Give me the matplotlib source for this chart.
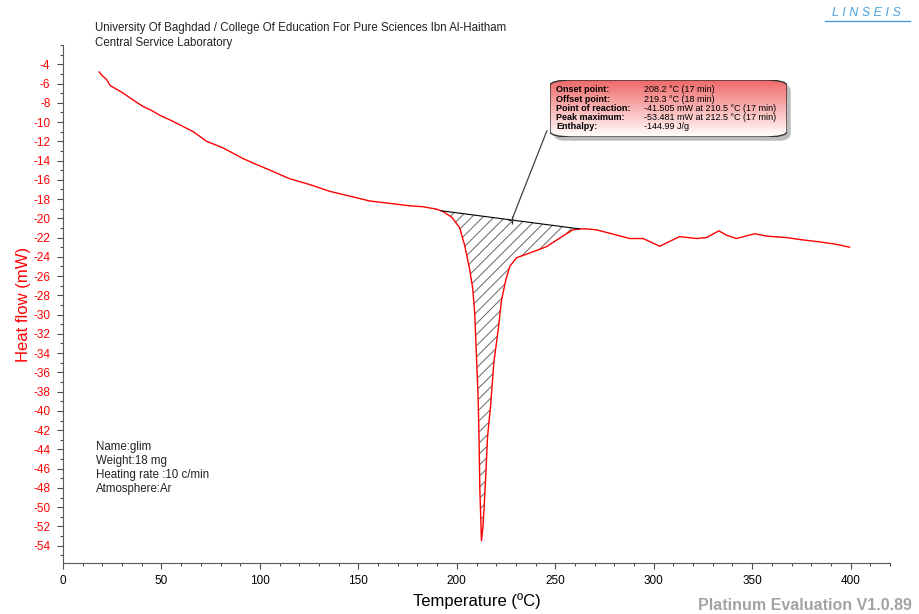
"""DSC curve of sample 'glim' -- Linseis Platinum style recreation."""
import numpy as np
import matplotlib
matplotlib.use("Agg")
import matplotlib.pyplot as plt
from matplotlib.patches import FancyBboxPatch
from matplotlib.ticker import MultipleLocator

plt.rcParams["font.family"] = ["Liberation Sans", "DejaVu Sans"]
plt.rcParams["hatch.linewidth"] = 0.7
plt.rcParams["axes.unicode_minus"] = False

# --- data ------------------------------------------------------------------
temp = [18.4, 19.5, 22.2, 23.9, 28.1, 30.6, 35.5, 40.8, 45.0, 49.2, 54.5, 59.4,
        66.1, 72.9, 81.4, 91.5, 97.0, 105.1, 115.2, 125.4, 135.5, 145.7, 155.8,
        166.0, 176.1, 182.9, 189.7, 193.0, 197.5, 201.5, 204.1, 206.6, 208.1,
        209.1, 210.0, 210.8, 211.3, 211.7, 212.2, 212.5, 213.3, 213.9, 214.6,
        215.6, 217.1, 218.8, 221.0, 222.7, 224.9, 226.9, 230.3, 237.1, 245.5,
        252.3, 258.9, 262.4, 266.0, 270.9, 277.7, 287.8, 294.6, 303.0, 313.2,
        321.7, 326.8, 333.1, 336.9, 342.0, 351.3, 357.2, 367.4, 374.1, 384.3,
        392.7, 399.5]
heat_flow = [-4.8, -5.1, -5.6, -6.2, -6.7, -7.0, -7.7, -8.4, -8.8, -9.3, -9.8,
             -10.3, -11.0, -12.0, -12.7, -13.8, -14.3, -15.0, -15.9, -16.5,
             -17.2, -17.7, -18.2, -18.45, -18.7, -18.8, -19.05, -19.3, -19.9,
             -21.0, -22.9, -25.4, -27.3, -29.9, -34.4, -38.5, -43.0, -48.2,
             -51.3, -53.48, -52.0, -49.9, -47.2, -42.7, -39.6, -35.0, -31.6,
             -28.5, -26.4, -25.0, -24.1, -23.6, -22.95, -22.05, -21.2, -21.1,
             -21.1, -21.2, -21.55, -22.1, -22.1, -22.9, -21.9, -22.1, -22.0,
             -21.3, -21.75, -22.1, -21.6, -21.85, -22.0, -22.2, -22.45, -22.7,
             -23.0]

onset_T, onset_Y = 192.2, -19.22     # integration baseline start
offset_T, offset_Y = 262.4, -21.1    # integration baseline end
mark_T, mark_Y = 227.9, -20.18       # "+" on baseline where the callout points

header = ["University Of Baghdad / College Of Education For Pure Sciences Ibn Al-Haitham",
          "Central Service Laboratory"]
sample_info = ["Name:glim", "Weight:18 mg", "Heating rate :10 c/min", "Atmosphere:Ar"]
result_labels = ["Onset point:", "Offset point:", "Point of reaction:",
                 "Peak maximum:", "Enthalpy:"]
result_values = ["208.2 \u00b0C (17 min)", "219.3 \u00b0C (18 min)",
                 "-41.505 mW at 210.5 \u00b0C (17 min)",
                 "-53.481 mW at 212.5 \u00b0C (17 min)", "-144.99 J/g"]

# --- figure -----------------------------------------------------------------
fig = plt.figure(figsize=(9.2, 6.14), dpi=100)
ax = fig.add_axes([63 / 920, 1 - 563 / 614, (890 - 63) / 920, (563 - 45) / 614])

T = np.array(temp)
Y = np.array(heat_flow)
ax.plot(T, Y, color="red", lw=1.0)

# hatched peak area between baseline and curve
sel = (T >= onset_T) & (T <= offset_T)
Ts = np.concatenate([[onset_T], T[sel], [offset_T]])
Ys = np.concatenate([[onset_Y], Y[sel], [offset_Y]])
base = np.interp(Ts, [onset_T, offset_T], [onset_Y, offset_Y])
ax.fill_between(Ts, Ys, base, facecolor="none", edgecolor="0.4", hatch="///",
                linewidth=0)
ax.plot([onset_T, offset_T], [onset_Y, offset_Y], color="black", lw=0.8)
ax.plot([mark_T], [mark_Y], marker="+", color="0.2", ms=6, mew=0.9)

ax.set_xlim(0, 420)
ax.set_ylim(-55.8, -2.0)
ax.xaxis.set_major_locator(MultipleLocator(50))
ax.xaxis.set_minor_locator(MultipleLocator(10))
ax.yaxis.set_major_locator(MultipleLocator(2))
ax.yaxis.set_minor_locator(MultipleLocator(1))
ax.set_yticks(np.arange(-54, -3, 2))
for s in ("top", "right"):
    ax.spines[s].set_visible(False)
for s in ("left", "bottom"):
    ax.spines[s].set_color("0.35")
ax.tick_params(which="major", length=4, width=0.8, color="0.3", labelsize=8.5, pad=5)
ax.tick_params(which="minor", length=2.5, width=0.8, color="0.3")
ax.tick_params(axis="y", labelcolor="red")
ax.set_xlabel("Temperature (\u00baC)", fontsize=12, labelpad=4)
ax.set_ylabel("Heat flow (mW)", fontsize=12, color="red", labelpad=2)

# header and sample info
for i, line in enumerate(header):
    fig.text(95 / 920, 1 - (28 + 15 * i) / 614, line, fontsize=8.3,
             va="center", ha="left", color="#222222")
for i, line in enumerate(sample_info):
    fig.text(96 / 920, 1 - (447 + 14 * i) / 614, line, fontsize=8.3,
             va="center", ha="left", color="#222222")

# callout arrow
ax.annotate("", xy=(mark_T, mark_Y), xycoords="data",
            xytext=(548 / 920, 1 - 128 / 614), textcoords="figure fraction",
            arrowprops=dict(arrowstyle="-", color="0.25", lw=0.9))

# callout box with red-to-white gradient and shadow
bx0, bx1, by0, by1 = 550, 787, 80, 137
shadow = FancyBboxPatch((bx0 / 920 + 0.004, 1 - by1 / 614 - 0.006),
                        (bx1 - bx0) / 920, (by1 - by0) / 614,
                        boxstyle="round,pad=0,rounding_size=0.012",
                        transform=fig.transFigure, facecolor="0.55",
                        edgecolor="none", alpha=0.6, zorder=5)
fig.patches.append(shadow)
bax = fig.add_axes([bx0 / 920, 1 - by1 / 614, (bx1 - bx0) / 920, (by1 - by0) / 614])
bax.set_zorder(6)
bax.axis("off")
grad = np.linspace(0, 1, 64).reshape(-1, 1)
cmap = matplotlib.colors.LinearSegmentedColormap.from_list(
    "callout", ["#f06a6a", "#f9b4b4", "#ffffff"])
img = bax.imshow(grad, aspect="auto", cmap=cmap, extent=[0, 1, 0, 1],
                 origin="upper", transform=bax.transAxes)
clip = FancyBboxPatch((0, 0), 1, 1, boxstyle="round,pad=0,rounding_size=0.1",
                      transform=bax.transAxes, facecolor="none",
                      edgecolor="#333333", lw=1.0)
bax.add_patch(clip)
img.set_clip_path(clip)
bax.set_xlim(0, 1)
bax.set_ylim(0, 1)
for i, (lab, val) in enumerate(zip(result_labels, result_values)):
    yy = 1 - (10 + 9.2 * i) / (by1 - by0)
    bax.text(6 / (bx1 - bx0), yy, lab, fontsize=6.5, fontweight="bold",
             va="center", ha="left", transform=bax.transAxes)
    bax.text(94 / (bx1 - bx0), yy, val, fontsize=6.5, va="center", ha="left",
             transform=bax.transAxes)

# logo and version stamp
fig.text(866 / 920, 1 - 13 / 614, "L I N S E I S", fontsize=9, style="italic",
         color="#4aa3df", ha="center", va="center")
fig.add_artist(plt.Line2D([825 / 920, 910 / 920], [1 - 21 / 614, 1 - 21 / 614],
                          transform=fig.transFigure, color="#4aa3df", lw=1.0))
fig.text(912 / 920, 1 - 606 / 614, "Platinum Evaluation V1.0.89", fontsize=11.5,
         fontweight="bold", color="#a3a3a3", ha="right", va="center")

fig.savefig("out.png", dpi=100)
